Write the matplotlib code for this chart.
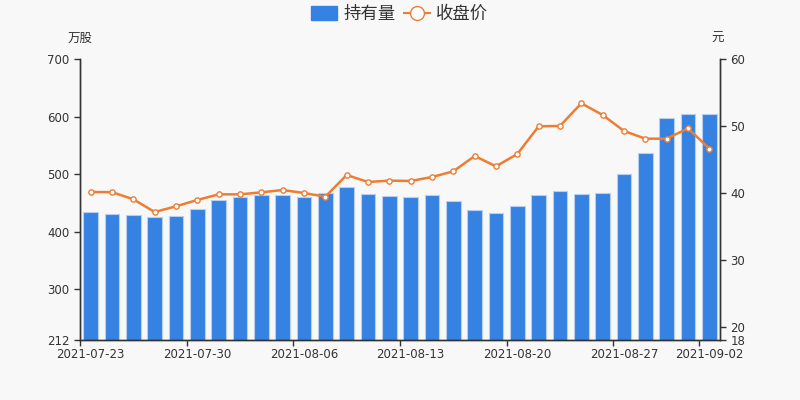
import matplotlib
matplotlib.use("Agg")
import matplotlib.pyplot as plt
import numpy as np
from matplotlib.lines import Line2D
from matplotlib.patches import Patch

plt.rcParams['font.family'] = ['Noto Sans CJK SC', 'DejaVu Sans']

dates = ["2021-07-23", "2021-07-26", "2021-07-27", "2021-07-28", "2021-07-29",
         "2021-07-30", "2021-08-02", "2021-08-03", "2021-08-04", "2021-08-05",
         "2021-08-06", "2021-08-09", "2021-08-10", "2021-08-11", "2021-08-12",
         "2021-08-13", "2021-08-16", "2021-08-17", "2021-08-18", "2021-08-19",
         "2021-08-20", "2021-08-23", "2021-08-24", "2021-08-25", "2021-08-26",
         "2021-08-27", "2021-08-30", "2021-08-31", "2021-09-01", "2021-09-02"]
holdings = [435, 431, 428.5, 425, 428, 439.5, 455, 460, 464, 464.5,
            461, 467, 478, 465, 461.5, 460.5, 464, 453.5, 438, 433,
            445, 464, 470, 466, 467, 500, 537, 597, 605, 605]
close = [40.12, 40.1, 39.03, 37.13, 37.98, 38.93, 39.77, 39.77, 40.07, 40.42,
         39.97, 39.42, 42.66, 41.62, 41.82, 41.77, 42.36, 43.21, 45.5, 43.96,
         45.8, 49.94, 49.99, 53.38, 51.63, 49.24, 48.09, 48.09, 49.64, 46.6]
label_idx = [0, 5, 10, 15, 20, 25, 29]
left_ticks = [212, 300, 400, 500, 600, 700]
right_ticks = [18, 20, 30, 40, 50, 60]

bg = '#f8f8f8'
bar_color = '#3582e2'
line_color = '#ee7d34'
axis_color = '#333333'

fig = plt.figure(figsize=(8, 4), dpi=100, facecolor=bg)
ax = fig.add_axes([0.1, 0.15, 0.8, 0.7025])
ax.set_facecolor(bg)
x = np.arange(len(dates))
ax.bar(x, holdings, width=0.7, color=bar_color, edgecolor='#b5d0f2', linewidth=0.8, zorder=2)
ax.set_ylim(212, 700)
ax.set_xlim(-0.5, len(dates) - 0.5)
ax.set_yticks(left_ticks)
# tick marks on category boundaries, labels on category centres
ax.set_xticks([i - 0.5 for i in label_idx])
ax.set_xticklabels([''] * len(label_idx))
ax.set_xticks(label_idx, minor=True)
ax.set_xticklabels([dates[i] for i in label_idx], minor=True)
ax.tick_params(axis='x', which='minor', length=0, pad=6)

ax2 = ax.twinx()
ax2.plot(x, close, color=line_color, linewidth=1.8, marker='o', markersize=3.8,
         markerfacecolor='white', markeredgecolor=line_color, markeredgewidth=1, zorder=3)
ax2.set_ylim(18, 60)
ax2.set_yticks(right_ticks)

for a in (ax, ax2):
    a.spines['top'].set_visible(False)
    for s in ('left', 'right', 'bottom'):
        a.spines[s].set_color(axis_color)
        a.spines[s].set_linewidth(1)
    a.tick_params(which='both', colors=axis_color, labelcolor=axis_color, labelsize=8.5, width=1)
    a.tick_params(which='major', length=4)
    for lab in (a.get_xticklabels() + a.get_yticklabels()
                + a.get_xticklabels(minor=True)):
        lab.set_fontfamily('DejaVu Sans')
ax.tick_params(axis='x', which='minor', length=0, pad=6)

fig.text(0.085, 0.905, '万股', fontsize=9, color=axis_color, ha='left', va='center')
fig.text(0.8975, 0.905, '元', fontsize=9, color=axis_color, ha='center', va='center')

handles = [Patch(facecolor=bar_color, edgecolor=bar_color),
           Line2D([0], [0], color=line_color, linewidth=1.5, marker='o', markersize=10,
                  markerfacecolor='white', markeredgecolor=line_color)]
fig.legend(handles, ['持有量', '收盘价'], loc='center', bbox_to_anchor=(0.5, 0.965), ncol=2,
           frameon=False, fontsize=12.5, handlelength=1.5, handleheight=0.8,
           columnspacing=0.5, handletextpad=0.35, labelcolor=axis_color)

fig.savefig('out.png', dpi=100, facecolor=bg)
